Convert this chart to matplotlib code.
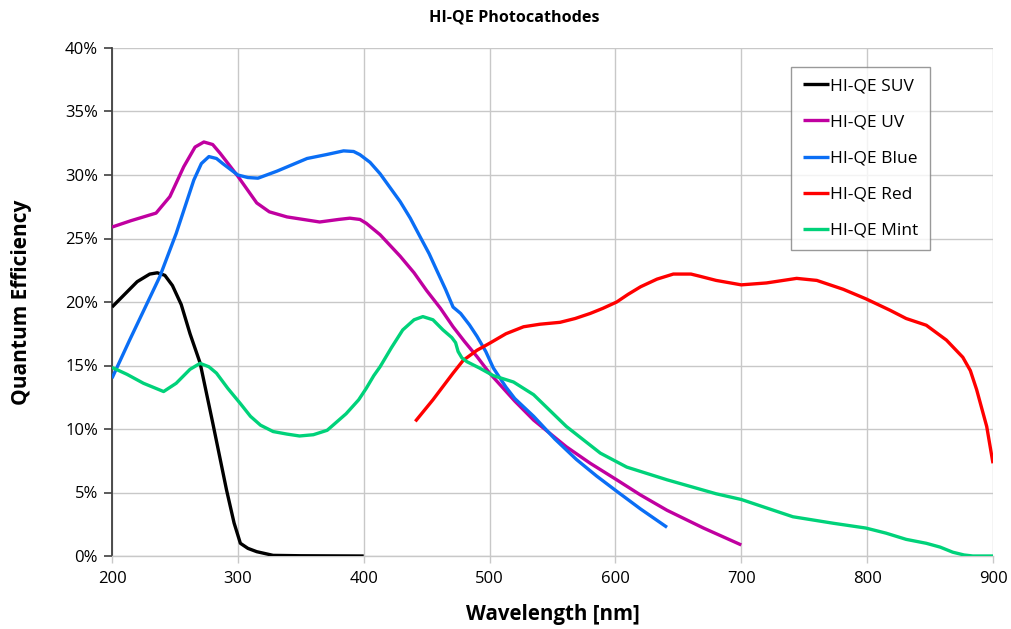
import matplotlib.pyplot as plt
import matplotlib.ticker as mticker

plt.rcParams['font.family'] = ['Open Sans', 'DejaVu Sans']

# wavelength [nm] / quantum efficiency [%]
suv_nm = [200, 210, 220, 230, 236, 242, 248, 255, 262, 270, 280, 291, 297, 302, 308, 315, 328, 350, 400]
suv_qe = [19.6, 20.6, 21.6, 22.2, 22.3, 22.1, 21.3, 19.8, 17.5, 15.2, 10.5, 5.2, 2.6, 1.0, 0.6, 0.34, 0.05, 0.02, 0.0]

uv_nm = [200, 215, 235, 246, 257, 266, 273, 280, 286, 300, 315, 325, 339, 352, 365, 380, 389, 397, 402, 413, 429,
         440, 450, 461, 471, 480, 490, 500, 520, 535, 561, 580, 601, 620, 641, 670, 700]
uv_qe = [25.9, 26.4, 27.0, 28.3, 30.65, 32.2, 32.6, 32.4, 31.7, 29.9, 27.8, 27.1, 26.7, 26.5, 26.3, 26.5, 26.6,
         26.5, 26.2, 25.3, 23.6, 22.3, 20.9, 19.5, 18.05, 16.9, 15.7, 14.4, 12.2, 10.7, 8.6, 7.3, 6.0, 4.8, 3.6,
         2.2, 0.87]

blue_nm = [200, 214, 226, 238, 251, 265, 271, 277, 283, 288, 300, 308, 316, 331, 343, 355, 370, 384, 392, 397,
           405, 413, 421, 429, 437, 445, 452, 458, 465, 471, 477, 484, 490, 497, 503, 513, 520, 535, 552, 569,
           585, 601, 620, 641]
blue_qe = [14.0, 17.0, 19.5, 22.0, 25.4, 29.6, 30.9, 31.45, 31.3, 30.9, 30.0, 29.8, 29.75, 30.3, 30.8, 31.3, 31.6,
           31.9, 31.85, 31.6, 31.0, 30.1, 29.0, 27.9, 26.6, 25.1, 23.8, 22.5, 21.0, 19.6, 19.1, 18.2, 17.3, 16.1,
           14.8, 13.3, 12.4, 11.0, 9.2, 7.6, 6.3, 5.1, 3.7, 2.26]

red_nm = [441, 455, 471, 479, 490, 500, 513, 527, 540, 556, 568, 580, 590, 601, 610, 620, 633, 646, 660, 667, 680,
          700, 720, 744, 760, 781, 799, 818, 831, 847, 863, 876, 882, 887, 895, 900]
red_qe = [10.6, 12.3, 14.4, 15.4, 16.2, 16.75, 17.5, 18.05, 18.25, 18.4, 18.7, 19.1, 19.5, 20.0, 20.6, 21.2, 21.8,
          22.2, 22.2, 22.03, 21.7, 21.35, 21.5, 21.86, 21.7, 21.0, 20.25, 19.36, 18.7, 18.17, 17.0, 15.65, 14.6,
          13.1, 10.2, 7.3]

mint_nm = [200, 212, 225, 241, 251, 262, 270, 277, 283, 292, 302, 310, 318, 328, 339, 349, 360, 371, 386, 396,
           402, 408, 413, 422, 431, 440, 447, 455, 463, 470, 473, 475, 478, 482, 492, 503, 519, 535, 561, 588, 609,
           641, 680, 700, 741, 773, 799, 815, 831, 847, 858, 868, 877, 884, 900]
mint_qe = [14.85, 14.3, 13.6, 12.95, 13.6, 14.7, 15.17, 14.9, 14.4, 13.2, 12.0, 11.0, 10.3, 9.8, 9.6, 9.45, 9.55,
           9.9, 11.2, 12.3, 13.2, 14.2, 14.9, 16.4, 17.8, 18.6, 18.85, 18.6, 17.8, 17.2, 16.8, 16.1, 15.6, 15.3,
           14.8, 14.2, 13.7, 12.7, 10.2, 8.1, 7.0, 6.0, 4.9, 4.45, 3.09, 2.58, 2.2, 1.8, 1.31, 1.0, 0.7, 0.3, 0.08,
           0.0, 0.0]

series = [
    ('HI-QE SUV', suv_nm, suv_qe, '#000000'),
    ('HI-QE UV', uv_nm, uv_qe, '#c000a0'),
    ('HI-QE Blue', blue_nm, blue_qe, '#0a6ef5'),
    ('HI-QE Red', red_nm, red_qe, '#ff0000'),
    ('HI-QE Mint', mint_nm, mint_qe, '#00d27a'),
]

fig = plt.figure(figsize=(10.11, 6.29), dpi=100)
ax = fig.add_axes([112 / 1011, 1 - 556 / 629, 881 / 1011, 508 / 629])

for name, xs, ys, c in series:
    ax.plot(xs, [v / 100 for v in ys], color=c, lw=2.4, label=name,
            solid_capstyle='butt', solid_joinstyle='round', zorder=3)

ax.set_xlim(200, 900)
ax.set_ylim(0, 0.40)
ax.set_xticks(range(200, 901, 100))
ax.set_yticks([i * 0.05 for i in range(9)])
ax.yaxis.set_major_formatter(mticker.PercentFormatter(1.0, decimals=0))

ax.grid(True, color='#c8c8c8', lw=1.0, zorder=0)
ax.set_axisbelow(True)
for s in ['top', 'right']:
    ax.spines[s].set_visible(False)
ax.spines['left'].set_color('#404040')
ax.spines['left'].set_linewidth(1.3)
ax.spines['bottom'].set_color('#c8c8c8')
ax.spines['bottom'].set_linewidth(1.0)
ax.tick_params(axis='y', direction='out', length=6, width=1.2, color='#404040',
               labelsize=12, pad=4)
ax.tick_params(axis='x', direction='out', length=5, width=1.0, color='#c8c8c8',
               labelsize=12, pad=6)

ax.set_xlabel('Wavelength [nm]', fontsize=14.8, fontweight='bold', labelpad=12)
ax.set_ylabel('Quantum Efficiency', fontsize=15, fontweight='bold', labelpad=24)
fig.text(514 / 1011, 1 - 18 / 629, 'HI-QE Photocathodes', fontsize=11.6, fontweight='bold',
         ha='center', va='center')

leg = ax.legend(loc='upper right', bbox_to_anchor=((930 - 112) / 881, 1 - (67 - 48) / 508),
                fontsize=12.5, frameon=True, fancybox=False, edgecolor='#808080',
                handlelength=1.5, handletextpad=0.1, labelspacing=1.15,
                borderpad=0.65, borderaxespad=0)
leg.get_frame().set_linewidth(1.0)

fig.savefig('out.png', dpi=100)
